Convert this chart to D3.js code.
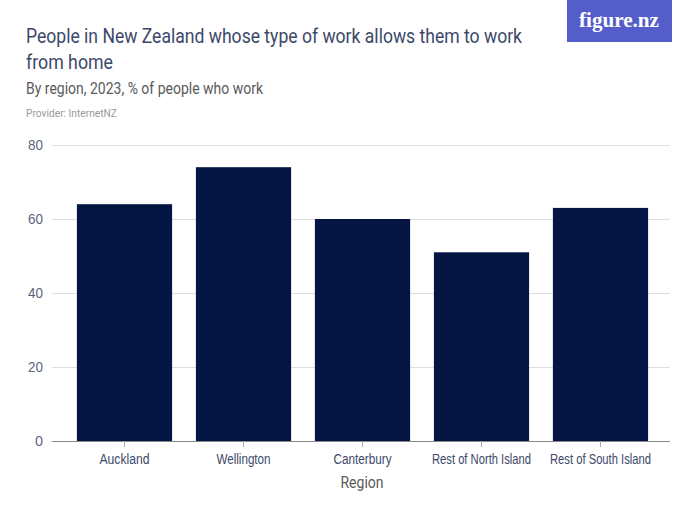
<!DOCTYPE html>
<html>
<head>
<meta charset="utf-8">
<script src="https://cdn.jsdelivr.net/npm/d3@7"></script>
<style>
  body { margin: 0; background: #fff; }
  svg { display: block; font-family: "Roboto", "DejaVu Sans", sans-serif; }
</style>
</head>
<body>
<svg width="700" height="525"></svg>
<script>
// data
var regions = ["Auckland", "Wellington", "Canterbury", "Rest of North Island", "Rest of South Island"];
var shareWorkFromHome = [64, 74, 60, 51, 63];
var yTicks = [0, 20, 40, 60, 80];
// widths the labels take in the reference (narrow font)
var regionLabelWidths = [50, 54, 58, 99, 101];

var svg = d3.select("svg");

// header
svg.append("text").attr("x", 26).attr("y", 43)
  .attr("font-size", 20).attr("fill", "#3b4869")
  .attr("textLength", 496).attr("lengthAdjust", "spacingAndGlyphs")
  .text("People in New Zealand whose type of work allows them to work");
svg.append("text").attr("x", 26).attr("y", 69)
  .attr("font-size", 20).attr("fill", "#3b4869")
  .attr("textLength", 87).attr("lengthAdjust", "spacingAndGlyphs")
  .text("from home");
svg.append("text").attr("x", 26).attr("y", 94)
  .attr("font-size", 17).attr("fill", "#5a5a5a")
  .attr("textLength", 237).attr("lengthAdjust", "spacingAndGlyphs")
  .text("By region, 2023, % of people who work");
svg.append("text").attr("x", 26).attr("y", 117)
  .attr("font-size", 11).attr("fill", "#9a9a9a")
  .attr("textLength", 91).attr("lengthAdjust", "spacingAndGlyphs")
  .text("Provider: InternetNZ");

// logo
svg.append("rect").attr("x", 567).attr("y", 0).attr("width", 105).attr("height", 42)
  .attr("fill", "#545dc9");
svg.append("text").attr("x", 579).attr("y", 27)
  .attr("font-family", "'Liberation Serif', 'DejaVu Serif', serif")
  .attr("font-size", 22).attr("font-weight", "bold").attr("fill", "#fff")
  .attr("textLength", 80).attr("lengthAdjust", "spacingAndGlyphs")
  .text("figure.nz");

// scales
var x = d3.scaleBand().domain(regions).range([65, 660]).paddingInner(0.2).paddingOuter(0.1);
var y = d3.scaleLinear().domain([0, 80]).range([441, 145]);

// gridlines
svg.append("g").selectAll("line").data(yTicks.filter(d => d > 0)).enter()
  .append("line")
    .attr("x1", 52).attr("x2", 670)
    .attr("y1", d => y(d) + 0.5).attr("y2", d => y(d) + 0.5)
    .attr("stroke", "#dedede").attr("stroke-width", 1);

// y axis labels
var yAxis = svg.append("g").attr("transform", "translate(43,0)")
  .call(d3.axisLeft(y).tickValues(yTicks).tickSize(0).tickPadding(0));
yAxis.select(".domain").remove();
yAxis.selectAll("text").attr("font-size", 15).attr("fill", "#5b6580")
  .attr("font-family", null)
  .attr("textLength", d => d === 0 ? 8 : 15).attr("lengthAdjust", "spacingAndGlyphs");

// bars
svg.append("g").selectAll("rect").data(regions).enter()
  .append("rect")
    .attr("x", d => x(d))
    .attr("y", (d, i) => y(shareWorkFromHome[i]))
    .attr("width", x.bandwidth())
    .attr("height", (d, i) => y(0) - y(shareWorkFromHome[i]))
    .attr("fill", "#041443");

// x axis
var xAxis = svg.append("g").attr("transform", "translate(0,441)")
  .call(d3.axisBottom(x).tickSize(6).tickPadding(7).tickSizeOuter(0));
xAxis.select(".domain").attr("d", "M52,0.5H670").attr("stroke", "#888");
xAxis.selectAll(".tick line").attr("stroke", "#aaa");
xAxis.selectAll("text").attr("font-size", 14).attr("fill", "#3b4869")
  .attr("font-family", null)
  .attr("textLength", (d, i) => regionLabelWidths[i]).attr("lengthAdjust", "spacingAndGlyphs");

svg.append("text").attr("x", 362).attr("y", 488).attr("text-anchor", "middle")
  .attr("font-size", 17).attr("fill", "#5a5a5a")
  .attr("textLength", 43).attr("lengthAdjust", "spacingAndGlyphs")
  .text("Region");
</script>
</body>
</html>
